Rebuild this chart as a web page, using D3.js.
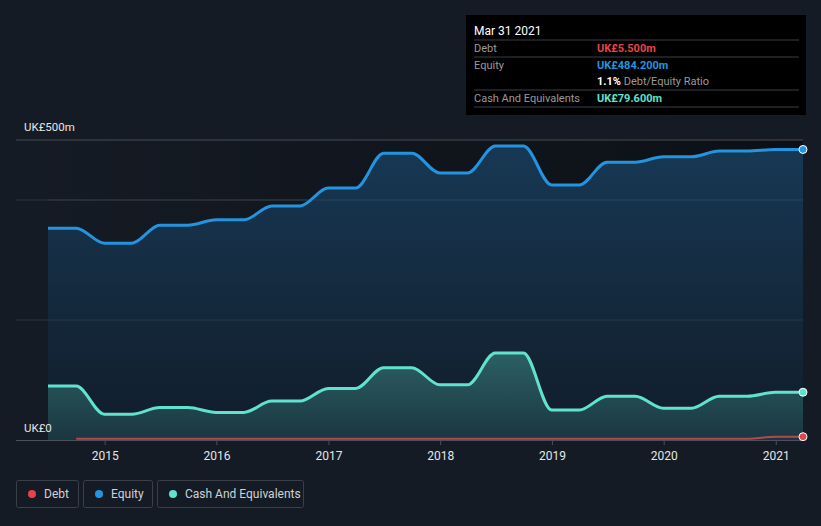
<html>
<head>
<style>
  body { margin: 0; background: #151b24; }
  svg text { font-family: Roboto, "Open Sans", sans-serif; }
</style>
<script src="https://d3js.org/d3.v7.min.js"></script>
</head>
<body>
<svg id="chart" width="821" height="526"></svg>
<script>
// quarter-end dates
const dates = ["2014-06-30","2014-09-30","2014-12-31","2015-03-31","2015-06-30","2015-09-30","2015-12-31","2016-03-31",
  "2016-06-30","2016-09-30","2016-12-31","2017-03-31","2017-06-30","2017-09-30","2017-12-31","2018-03-31",
  "2018-06-30","2018-09-30","2018-12-31","2019-03-31","2019-06-30","2019-09-30","2019-12-31","2020-03-31",
  "2020-06-30","2020-09-30","2020-12-31","2021-03-31"];
const equity = [353, 353, 328, 328, 358, 358, 367, 367, 390, 390, 420, 420, 478, 478, 445, 445,
  490, 490, 425, 425, 463, 463, 472, 472, 481.5, 481.5, 484.2, 484.2];
const cash = [90, 90, 43, 43, 54, 54, 46, 46, 65, 65, 86, 86, 120.5, 120.5, 92, 92,
  145, 145, 50, 50, 73, 73, 53, 53, 73, 73, 79.6, 79.6];
const debt = [null, 2, 2, 2, 2, 2, 2, 2, 2, 2, 2, 2, 2, 2, 2, 2,
  2, 2, 2, 2, 2, 2, 2, 2, 2, 2, 5.5, 5.5];
const yearTicks = [2015, 2016, 2017, 2018, 2019, 2020, 2021];
const gridValues = [200, 400];

const parse = d3.timeParse("%Y-%m-%d");
const rows = dates.map((d, i) => ({date: parse(d), equity: equity[i], cash: cash[i], debt: debt[i]}));

const svg = d3.select("#chart");
const x = d3.scaleTime().domain(d3.extent(rows, d => d.date)).range([48, 803]);
const y = d3.scaleLinear().domain([0, 500]).range([440, 140]);

const defs = svg.append("defs");
const eqGrad = defs.append("linearGradient").attr("id", "eqGrad").attr("x1", 0).attr("x2", 0).attr("y1", 0).attr("y2", 1);
eqGrad.append("stop").attr("offset", "0%").attr("stop-color", "#173854");
eqGrad.append("stop").attr("offset", "100%").attr("stop-color", "#111c29");
const cashGrad = defs.append("linearGradient").attr("id", "cashGrad").attr("x1", 0).attr("x2", 0).attr("y1", 0).attr("y2", 1);
cashGrad.append("stop").attr("offset", "0%").attr("stop-color", "#2b6064");
cashGrad.append("stop").attr("offset", "100%").attr("stop-color", "#1b3640");
const shade = defs.append("linearGradient").attr("id", "shade");
shade.append("stop").attr("offset", "0%").attr("stop-color", "#151b24");
shade.append("stop").attr("offset", "100%").attr("stop-color", "#0c1016");

svg.append("rect").attr("width", 821).attr("height", 526).attr("fill", "#151b24");
svg.append("rect").attr("x", 48).attr("y", 140).attr("width", 755).attr("height", 300).attr("fill", "url(#shade)");

// gridlines
svg.selectAll(".grid").data(gridValues).enter().append("line")
  .attr("x1", 16).attr("x2", 803)
  .attr("y1", d => y(d)).attr("y2", d => y(d))
  .attr("stroke", "#2c3340").attr("stroke-width", 1);

const curve = d3.curveMonotoneX;

svg.append("path").datum(rows)
  .attr("d", d3.area().curve(curve).x(d => x(d.date)).y0(y(0)).y1(d => y(d.equity)))
  .attr("fill", "url(#eqGrad)");
svg.append("path").datum(rows)
  .attr("d", d3.area().curve(curve).x(d => x(d.date)).y0(y(0)).y1(d => y(d.cash)))
  .attr("fill", "url(#cashGrad)");

// gridlines drawn over the areas faintly
svg.selectAll(".grid2").data(gridValues).enter().append("line")
  .attr("x1", 48).attr("x2", 803)
  .attr("y1", d => y(d)).attr("y2", d => y(d))
  .attr("stroke", "#ffffff").attr("stroke-opacity", 0.08);

// top line
svg.append("line").attr("x1", 16).attr("x2", 803).attr("y1", y(500)).attr("y2", y(500))
  .attr("stroke", "#474c56").attr("stroke-width", 1);

// x axis baseline
svg.append("line").attr("x1", 16).attr("x2", 803).attr("y1", y(0) + 0.5).attr("y2", y(0) + 0.5)
  .attr("stroke", "#4a505b").attr("stroke-width", 1);

svg.append("path").datum(rows)
  .attr("d", d3.line().curve(curve).x(d => x(d.date)).y(d => y(d.equity)))
  .attr("fill", "none").attr("stroke", "#2394df").attr("stroke-width", 3);
svg.append("path").datum(rows)
  .attr("d", d3.line().curve(curve).x(d => x(d.date)).y(d => y(d.cash)))
  .attr("fill", "none").attr("stroke", "#5fe3cf").attr("stroke-width", 3);
svg.append("path").datum(rows.filter(d => d.debt != null))
  .attr("d", d3.line().curve(curve).x(d => x(d.date)).y(d => y(d.debt)))
  .attr("fill", "none").attr("stroke", "#d04a52").attr("stroke-opacity", 0.85).attr("stroke-width", 2);

// x axis
const xAxis = svg.append("g").attr("transform", `translate(0,${y(0)})`)
  .call(d3.axisBottom(x).tickValues(yearTicks.map(yr => new Date(yr, 0, 1))).tickFormat(d3.timeFormat("%Y")).tickSize(5).tickPadding(6));
xAxis.select(".domain").remove();
xAxis.selectAll(".tick line").attr("stroke", "#4a505b");
xAxis.selectAll(".tick text").attr("fill", "#e6e6e6").attr("font-size", 12);

// y labels
svg.append("text").attr("x", 24).attr("y", y(500) - 9).attr("fill", "#e6e6e6").attr("font-size", 11.5).text("UK£500m");
svg.append("text").attr("x", 24).attr("y", y(0) - 8).attr("fill", "#e6e6e6").attr("font-size", 11.5).text("UK£0");

// end markers
const last = rows[rows.length - 1];
[["equity", "#2394df"], ["cash", "#5fe3cf"], ["debt", "#e0464e"]].forEach(([k, c]) => {
  svg.append("circle").attr("cx", x(last.date)).attr("cy", y(last[k])).attr("r", 4)
    .attr("fill", c).attr("stroke", "#ffffff").attr("stroke-width", 1);
});

// tooltip
const tip = svg.append("g");
tip.append("rect").attr("x", 466).attr("y", 15).attr("width", 340).attr("height", 100).attr("fill", "#000000");
tip.append("text").attr("x", 474).attr("y", 35).attr("fill", "#ffffff").attr("font-size", 12).text("Mar 31 2021");
[40, 57, 90, 107].forEach(ly => tip.append("line").attr("x1", 474).attr("x2", 799).attr("y1", ly).attr("y2", ly)
  .attr("stroke", "#3b3e44").attr("stroke-width", 1));
const tipRows = [
  {label: "Debt", value: "UK£5.500m", color: "#e8434a", y: 52},
  {label: "Equity", value: "UK£484.200m", color: "#2394df", y: 69},
  {label: "Cash And Equivalents", value: "UK£79.600m", color: "#5fe3cf", y: 102}
];
tipRows.forEach(r => {
  tip.append("text").attr("x", 474).attr("y", r.y).attr("fill", "#9a9a9a").attr("font-size", 11).text(r.label);
  tip.append("text").attr("x", 597).attr("y", r.y).attr("fill", r.color).attr("font-size", 11).attr("font-weight", "bold").text(r.value);
});
const ratio = tip.append("text").attr("x", 597).attr("y", 85).attr("font-size", 11);
ratio.append("tspan").attr("fill", "#ffffff").attr("font-weight", "bold").text("1.1%");
ratio.append("tspan").attr("fill", "#9a9a9a").text(" Debt/Equity Ratio");

// legend
const legendItems = [
  {name: "Debt", color: "#e8434a", x: 16, w: 62},
  {name: "Equity", color: "#2394df", x: 83, w: 69},
  {name: "Cash And Equivalents", color: "#5fe3cf", x: 157, w: 146}
];
const lg = svg.append("g");
legendItems.forEach(it => {
  lg.append("rect").attr("x", it.x + 0.5).attr("y", 480.5).attr("width", it.w).attr("height", 27).attr("rx", 2)
    .attr("fill", "none").attr("stroke", "#3a3f49");
  lg.append("circle").attr("cx", it.x + 16).attr("cy", 494).attr("r", 4).attr("fill", it.color);
  lg.append("text").attr("x", it.x + 28).attr("y", 498).attr("fill", "#cfd2d6").attr("font-size", 12).text(it.name);
});
</script>
</body>
</html>
